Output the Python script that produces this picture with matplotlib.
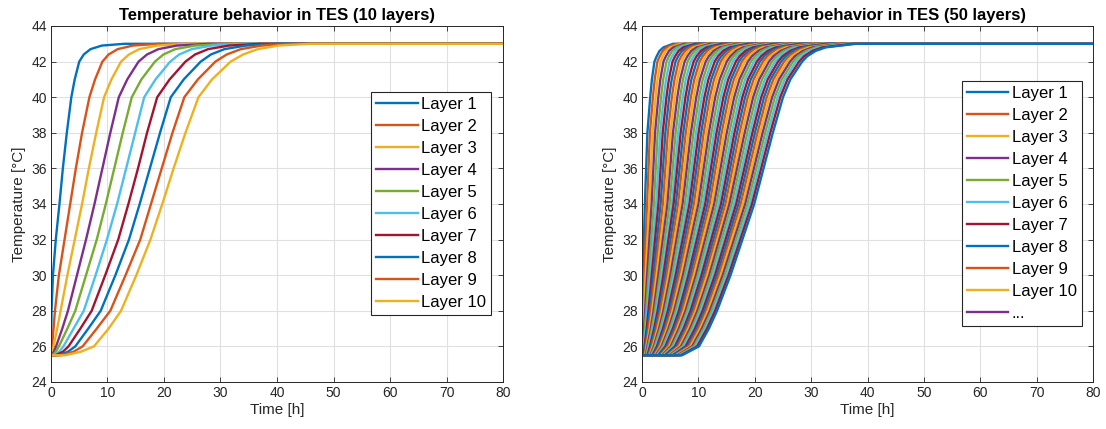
import matplotlib
matplotlib.use("Agg")
import matplotlib.pyplot as plt

plt.rcParams['font.family'] = ['Liberation Sans', 'DejaVu Sans']

# MATLAB default line colour order
MATLAB_COLORS = ['#0072BD', '#D95319', '#EDB120', '#7E2F8E', '#77AC30', '#4DBEEE', '#A2142F']

T_END = 80.0
T_FINAL = 43.0

# ---- 10 layer model: time [h] at which each layer reaches the given temperature ----
T_LEVELS_10 = [25.5, 25.7, 26, 27, 28, 30, 32, 34, 36, 38, 40, 41, 42, 42.4, 42.7, 42.9, 43]
layer_times_10 = [
    [0.0, 0.01, 0.02, 0.05, 0.1, 0.35, 0.85, 1.5, 2.1, 2.8, 3.6, 4.2, 5.0, 5.8, 7.0, 9.0, 13.0],
    [0.0, 0.08, 0.2, 0.45, 0.7, 1.4, 2.4, 3.4, 4.4, 5.5, 6.8, 7.8, 9.1, 10.2, 11.8, 14.5, 19.0],
    [0.0, 0.2, 0.45, 1.1, 1.7, 2.9, 4.2, 5.5, 6.7, 8.0, 9.4, 10.7, 12.4, 13.8, 15.6, 18.8, 24.0],
    [0.1, 0.5, 0.9, 2.0, 3.0, 4.6, 6.2, 7.7, 9.1, 10.5, 12.0, 13.5, 15.5, 17.0, 19.0, 22.3, 28.0],
    [0.25, 0.85, 1.4, 2.9, 4.3, 6.2, 8.1, 9.7, 11.2, 12.7, 14.3, 16.0, 18.4, 19.9, 22.0, 25.5, 31.0],
    [0.5, 1.45, 2.2, 4.0, 5.8, 7.9, 9.9, 11.7, 13.3, 14.9, 16.5, 18.5, 21.1, 22.7, 24.9, 28.5, 34.0],
    [0.8, 2.1, 3.1, 5.2, 7.2, 9.6, 11.9, 13.7, 15.4, 17.0, 18.8, 21.0, 23.8, 25.5, 27.8, 31.5, 37.0],
    [1.3, 3.0, 4.3, 6.6, 8.8, 11.4, 13.8, 15.7, 17.5, 19.3, 21.2, 23.5, 26.5, 28.3, 30.7, 34.5, 40.0],
    [1.8, 4.0, 5.6, 8.1, 10.5, 13.2, 15.8, 17.7, 19.6, 21.5, 23.6, 26.0, 29.1, 31.1, 33.6, 37.3, 43.0],
    [2.5, 5.3, 7.6, 10.2, 12.4, 15.1, 17.6, 19.7, 21.7, 23.8, 26.1, 28.5, 31.8, 34.0, 36.6, 40.2, 46.0],
]
labels_10 = [f"Layer {i}" for i in range(1, 11)]

# ---- 50 layer model: time [h] at which layer 1..50 reaches each temperature ----
T_LEVELS_50 = [25.5, 26, 27, 28, 30, 32, 34, 36, 38, 40, 41, 42, 42.3, 42.6, 42.8, 43]
t50_at_25_5 = [0.0, 0.02, 0.06, 0.11, 0.17, 0.23, 0.30, 0.38, 0.47, 0.56,
               0.65, 0.76, 0.86, 0.97, 1.08, 1.20, 1.32, 1.45, 1.58, 1.71,
               1.85, 1.99, 2.13, 2.28, 2.43, 2.59, 2.74, 2.90, 3.07, 3.23,
               3.40, 3.57, 3.75, 3.92, 4.10, 4.29, 4.47, 4.66, 4.85, 5.04,
               5.23, 5.44, 5.64, 5.83, 6.04, 6.25, 6.46, 6.67, 6.88, 7.10]
t50_at_26 = [0.02, 0.05, 0.10, 0.17, 0.25, 0.35, 0.45, 0.56, 0.69, 0.81,
             0.95, 1.09, 1.24, 1.40, 1.56, 1.73, 1.90, 2.08, 2.26, 2.45,
             2.65, 2.85, 3.05, 3.26, 3.47, 3.69, 3.91, 4.14, 4.37, 4.60,
             4.84, 5.09, 5.34, 5.59, 5.85, 6.11, 6.37, 6.63, 6.91, 7.18,
             7.45, 7.74, 8.02, 8.30, 8.59, 8.89, 9.19, 9.48, 9.78, 10.10]
t50_at_27 = [0.05, 0.13, 0.24, 0.37, 0.51, 0.67, 0.83, 1.00, 1.18, 1.36,
             1.55, 1.74, 1.94, 2.15, 2.36, 2.58, 2.80, 3.02, 3.24, 3.48,
             3.72, 3.96, 4.20, 4.45, 4.69, 4.94, 5.20, 5.47, 5.72, 5.99,
             6.26, 6.53, 6.81, 7.09, 7.37, 7.65, 7.93, 8.22, 8.51, 8.80,
             9.09, 9.40, 9.70, 9.99, 10.30, 10.61, 10.92, 11.22, 11.53, 11.86]
t50_at_28 = [0.08, 0.20, 0.36, 0.54, 0.73, 0.93, 1.14, 1.36, 1.58, 1.81,
             2.04, 2.28, 2.52, 2.77, 3.02, 3.27, 3.53, 3.79, 4.05, 4.32,
             4.59, 4.87, 5.14, 5.42, 5.69, 5.97, 6.26, 6.55, 6.83, 7.12,
             7.42, 7.71, 8.01, 8.31, 8.61, 8.91, 9.21, 9.52, 9.82, 10.13,
             10.44, 10.75, 11.07, 11.38, 11.69, 12.02, 12.33, 12.65, 12.97, 13.30]
t50_at_30 = [0.18, 0.39, 0.64, 0.90, 1.17, 1.44, 1.72, 2.01, 2.30, 2.58,
             2.88, 3.18, 3.48, 3.78, 4.09, 4.40, 4.71, 5.02, 5.34, 5.66,
             5.97, 6.29, 6.61, 6.93, 7.26, 7.58, 7.91, 8.23, 8.56, 8.89,
             9.22, 9.56, 9.89, 10.23, 10.56, 10.90, 11.24, 11.57, 11.92, 12.25,
             12.60, 12.94, 13.29, 13.62, 13.96, 14.31, 14.66, 15.00, 15.35, 15.70]
t50_at_32 = [0.34, 0.64, 0.97, 1.30, 1.64, 1.97, 2.31, 2.66, 3.00, 3.34,
             3.69, 4.04, 4.39, 4.69, 5.05, 5.40, 5.76, 6.11, 6.47, 6.83,
             7.19, 7.55, 7.91, 8.27, 8.63, 8.99, 9.36, 9.72, 10.08, 10.45,
             10.81, 11.18, 11.55, 11.92, 12.28, 12.65, 13.02, 13.39, 13.71, 14.08,
             14.45, 14.82, 15.20, 15.56, 15.93, 16.31, 16.68, 17.05, 17.43, 17.80]
t50_at_34 = [0.5, 0.9, 1.3, 1.7, 2.1, 2.5, 2.9, 3.3, 3.7, 4.1,
             4.5, 4.9, 5.3, 5.6, 6.0, 6.4, 6.8, 7.2, 7.6, 8.0,
             8.4, 8.8, 9.2, 9.6, 10.0, 10.4, 10.8, 11.2, 11.6, 12.0,
             12.4, 12.8, 13.2, 13.6, 14.0, 14.4, 14.8, 15.2, 15.5, 15.9,
             16.3, 16.7, 17.1, 17.5, 17.9, 18.3, 18.7, 19.1, 19.5, 19.9]
t50_at_36 = [0.73, 1.15, 1.58, 2.01, 2.44, 2.86, 3.29, 3.72, 4.14, 4.57,
             5.00, 5.43, 5.85, 6.23, 6.66, 7.08, 7.51, 7.94, 8.36, 8.79,
             9.22, 9.65, 10.07, 10.50, 10.93, 11.35, 11.78, 12.21, 12.64, 13.06,
             13.49, 13.92, 14.34, 14.77, 15.20, 15.62, 16.05, 16.48, 16.86, 17.28,
             17.71, 18.14, 18.56, 18.99, 19.42, 19.85, 20.27, 20.70, 21.13, 21.55]
t50_at_38 = [0.95, 1.40, 1.86, 2.31, 2.77, 3.22, 3.67, 4.13, 4.58, 5.04,
             5.49, 5.95, 6.40, 6.85, 7.31, 7.76, 8.22, 8.67, 9.12, 9.58,
             10.03, 10.49, 10.94, 11.39, 11.85, 12.30, 12.76, 13.21, 13.67, 14.12,
             14.57, 15.03, 15.48, 15.94, 16.39, 16.84, 17.30, 17.75, 18.21, 18.66,
             19.11, 19.57, 20.02, 20.48, 20.93, 21.39, 21.84, 22.29, 22.75, 23.20]
t50_at_40 = [1.45, 1.93, 2.41, 2.89, 3.37, 3.85, 4.33, 4.81, 5.29, 5.78,
             6.26, 6.74, 7.22, 7.70, 8.18, 8.66, 9.14, 9.62, 10.10, 10.58,
             11.06, 11.54, 12.02, 12.50, 12.98, 13.47, 13.95, 14.43, 14.91, 15.39,
             15.87, 16.35, 16.83, 17.31, 17.79, 18.27, 18.75, 19.23, 19.71, 20.19,
             20.67, 21.15, 21.64, 22.12, 22.60, 23.08, 23.56, 24.04, 24.52, 25.00]
t50_at_41 = [1.75, 2.25, 2.75, 3.25, 3.75, 4.26, 4.76, 5.26, 5.76, 6.26,
             6.76, 7.26, 7.76, 8.26, 8.76, 9.27, 9.77, 10.27, 10.77, 11.27,
             11.77, 12.27, 12.77, 13.27, 13.78, 14.28, 14.78, 15.28, 15.78, 16.28,
             16.78, 17.28, 17.78, 18.28, 18.79, 19.29, 19.79, 20.29, 20.79, 21.29,
             21.79, 22.29, 22.79, 23.29, 23.80, 24.30, 24.80, 25.30, 25.80, 26.30]
t50_at_42 = [2.20, 2.73, 3.27, 3.80, 4.34, 4.87, 5.41, 5.94, 6.48, 7.01,
             7.55, 8.08, 8.62, 9.15, 9.69, 10.22, 10.76, 11.29, 11.82, 12.36,
             12.89, 13.43, 13.96, 14.50, 15.03, 15.57, 16.10, 16.64, 17.17, 17.71,
             18.24, 18.78, 19.31, 19.85, 20.38, 20.91, 21.45, 21.98, 22.52, 23.05,
             23.59, 24.12, 24.66, 25.19, 25.73, 26.26, 26.80, 27.33, 27.87, 28.40]
t50_at_42_3 = [2.60, 3.14, 3.69, 4.23, 4.78, 5.32, 5.87, 6.41, 6.96, 7.50,
               8.05, 8.59, 9.14, 9.68, 10.23, 10.77, 11.32, 11.86, 12.41, 12.95,
               13.50, 14.04, 14.59, 15.13, 15.68, 16.22, 16.77, 17.31, 17.86, 18.40,
               18.95, 19.49, 20.04, 20.58, 21.13, 21.67, 22.22, 22.76, 23.31, 23.85,
               24.40, 24.94, 25.49, 26.03, 26.58, 27.12, 27.67, 28.21, 28.76, 29.30]
t50_at_42_6 = [3.10, 3.67, 4.23, 4.80, 5.36, 5.93, 6.49, 7.06, 7.62, 8.19,
               8.75, 9.32, 9.88, 10.45, 11.01, 11.58, 12.14, 12.71, 13.28, 13.84,
               14.41, 14.97, 15.54, 16.10, 16.67, 17.23, 17.80, 18.36, 18.93, 19.49,
               20.06, 20.62, 21.19, 21.75, 22.32, 22.89, 23.45, 24.02, 24.58, 25.15,
               25.71, 26.28, 26.84, 27.41, 27.97, 28.54, 29.10, 29.67, 30.23, 30.80]
t50_at_42_8 = [3.80, 4.39, 4.98, 5.56, 6.15, 6.74, 7.33, 7.91, 8.50, 9.09,
               9.68, 10.27, 10.85, 11.44, 12.03, 12.62, 13.20, 13.79, 14.38, 14.97,
               15.56, 16.14, 16.73, 17.32, 17.91, 18.49, 19.08, 19.67, 20.26, 20.85,
               21.43, 22.02, 22.61, 23.20, 23.78, 24.37, 24.96, 25.55, 26.14, 26.72,
               27.31, 27.90, 28.49, 29.08, 29.66, 30.25, 30.84, 31.43, 32.01, 32.60]
t50_at_43 = [5.50, 6.16, 6.83, 7.49, 8.15, 8.82, 9.48, 10.14, 10.81, 11.47,
             12.13, 12.80, 13.46, 14.12, 14.79, 15.45, 16.11, 16.78, 17.44, 18.10,
             18.77, 19.43, 20.09, 20.76, 21.42, 22.08, 22.75, 23.41, 24.07, 24.74,
             25.40, 26.06, 26.73, 27.39, 28.05, 28.72, 29.38, 30.04, 30.71, 31.37,
             32.03, 32.70, 33.36, 34.02, 34.69, 35.35, 36.01, 36.68, 37.34, 38.00]
labels_50 = [f"Layer {i}" for i in range(1, 11)] + ["..."]


def layer_curve(times, levels):
    # start at the initial temperature, then hold the final temperature until the end
    xs = list(times) + [T_END]
    ys = list(levels) + [T_FINAL]
    if xs[0] > 0:
        xs = [0.0] + xs
        ys = [levels[0]] + ys
    return xs, ys


def style_axes(ax, title):
    ax.set_xlim(0, 80)
    ax.set_ylim(24, 44)
    ax.set_xticks(range(0, 81, 10))
    ax.set_yticks(range(24, 45, 2))
    ax.grid(True, color='#e0e0e0', linewidth=0.8)
    ax.set_axisbelow(True)
    ax.tick_params(direction='in', top=True, right=True, length=3.5, width=0.6,
                   colors='#262626', labelsize=10, pad=3)
    for sp in ax.spines.values():
        sp.set_color('#262626')
        sp.set_linewidth(0.7)
    ax.set_xlabel('Time [h]', fontsize=11, color='#262626', labelpad=2)
    ax.set_ylabel('Temperature [°C]', fontsize=11, color='#262626', labelpad=4)
    ax.set_title(title, fontsize=12, fontweight='bold', pad=4)


def add_legend(ax, handles, labels, anchor):
    leg = ax.legend(handles, labels, loc='upper right', bbox_to_anchor=anchor,
                    borderaxespad=0, fontsize=12, fancybox=False, framealpha=1,
                    edgecolor='#262626', handlelength=2.5, handletextpad=0.2,
                    labelspacing=0.42, borderpad=0.3)
    leg.get_frame().set_linewidth(0.8)


fig = plt.figure(figsize=(11.06, 4.29), dpi=100)
ax1 = fig.add_axes([0.0461, 0.1096, 0.4087, 0.8298])
ax2 = fig.add_axes([0.5805, 0.1096, 0.4078, 0.8298])

# left panel
lines_10 = []
for i, times in enumerate(layer_times_10):
    xs, ys = layer_curve(times, T_LEVELS_10)
    ln, = ax1.plot(xs, ys, color=MATLAB_COLORS[i % 7], linewidth=1.7)
    lines_10.append(ln)
style_axes(ax1, 'Temperature behavior in TES (10 layers)')
add_legend(ax1, lines_10, labels_10, (0.9735, 0.8146))

# right panel
per_level = [t50_at_25_5, t50_at_26, t50_at_27, t50_at_28, t50_at_30, t50_at_32,
             t50_at_34, t50_at_36, t50_at_38, t50_at_40, t50_at_41, t50_at_42,
             t50_at_42_3, t50_at_42_6, t50_at_42_8, t50_at_43]
lines_50 = []
for k in range(len(t50_at_34)):
    times = [lvl[k] for lvl in per_level]
    xs, ys = layer_curve(times, T_LEVELS_50)
    ln, = ax2.plot(xs, ys, color=MATLAB_COLORS[k % 7], linewidth=1.7)
    lines_50.append(ln)
style_axes(ax2, 'Temperature behavior in TES (50 layers)')
add_legend(ax2, lines_50[:11], labels_50, (0.975, 0.846))

fig.savefig('out.png', dpi=100)
